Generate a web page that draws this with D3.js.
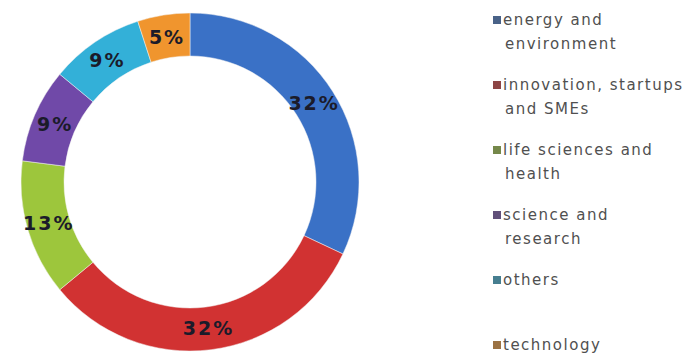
<!DOCTYPE html>
<html>
<head>
<meta charset="utf-8">
<script src="https://cdn.jsdelivr.net/npm/d3@7"></script>
<style>
  html, body { margin: 0; padding: 0; background: #ffffff; }
  svg { display: block; }
</style>
</head>
<body>
<script>
// Funding share by thematic area
const categories = [
  "energy and environment",
  "innovation, startups and SMEs",
  "life sciences and health",
  "science and research",
  "others",
  "technology"
];
const legendLines = [
  ["energy and", "environment"],
  ["innovation, startups", "and SMEs"],
  ["life sciences and", "health"],
  ["science and", "research"],
  ["others"],
  ["technology"]
];
const values = [32, 32, 13, 9, 9, 5];
const colors = ["#3a71c6", "#d13232", "#9dc63c", "#7049a8", "#33b0d8", "#f0952e"];

const W = 690, H = 358;
const cx = 190, cy = 182, rOuter = 169, rInner = 126;

const svg = d3.select("body").append("svg")
  .attr("width", W).attr("height", H);

const pie = d3.pie().sort(null).value(d => d.value);
const arc = d3.arc().innerRadius(rInner).outerRadius(rOuter);
const labelArc = d3.arc().innerRadius(147).outerRadius(147);

const data = categories.map((c, i) => ({ name: c, value: values[i], color: colors[i] }));
const arcs = pie(data);

const g = svg.append("g").attr("transform", `translate(${cx},${cy})`);

g.selectAll("path.slice")
  .data(arcs)
  .join("path")
  .attr("class", "slice")
  .attr("d", arc)
  .attr("fill", d => d.data.color)
  .attr("stroke", "#f2f2f2")
  .attr("stroke-width", 0.5);

g.selectAll("text.pct")
  .data(arcs)
  .join("text")
  .attr("class", "pct")
  .attr("transform", d => `translate(${labelArc.centroid(d)})`)
  .attr("text-anchor", "middle")
  .attr("dominant-baseline", "central")
  .attr("font-family", "DejaVu Sans, Verdana, sans-serif")
  .attr("font-weight", "bold")
  .attr("font-size", 19)
  .attr("letter-spacing", 2)
  .attr("fill", "#1b1b2a")
  .text(d => d.data.value + "%");

// Legend: small muted square marker followed by wrapped label text
const legend = svg.append("g").attr("transform", "translate(493,0)");
const itemY = d3.scaleLinear().domain([0, 5]).range([20, 345]);
const markerColor = c => d3.interpolateRgb(c, "#555555")(0.55);

const items = legend.selectAll("g.item")
  .data(data)
  .join("g")
  .attr("class", "item")
  .attr("transform", (d, i) => `translate(0,${itemY(i)})`);

items.append("rect")
  .attr("x", 0).attr("y", -4)
  .attr("width", 8).attr("height", 8)
  .attr("fill", d => markerColor(d.color));

items.each(function(d, i) {
  const t = d3.select(this).append("text")
    .attr("font-family", "DejaVu Sans, Verdana, sans-serif")
    .attr("font-size", 15)
    .attr("letter-spacing", 1.5)
    .attr("fill", "#505050");
  legendLines[i].forEach((line, j) => {
    t.append("tspan")
      .attr("x", j === 0 ? 10 : 12)
      .attr("y", j * 24)
      .attr("dominant-baseline", "central")
      .text(line);
  });
});
</script>
</body>
</html>
